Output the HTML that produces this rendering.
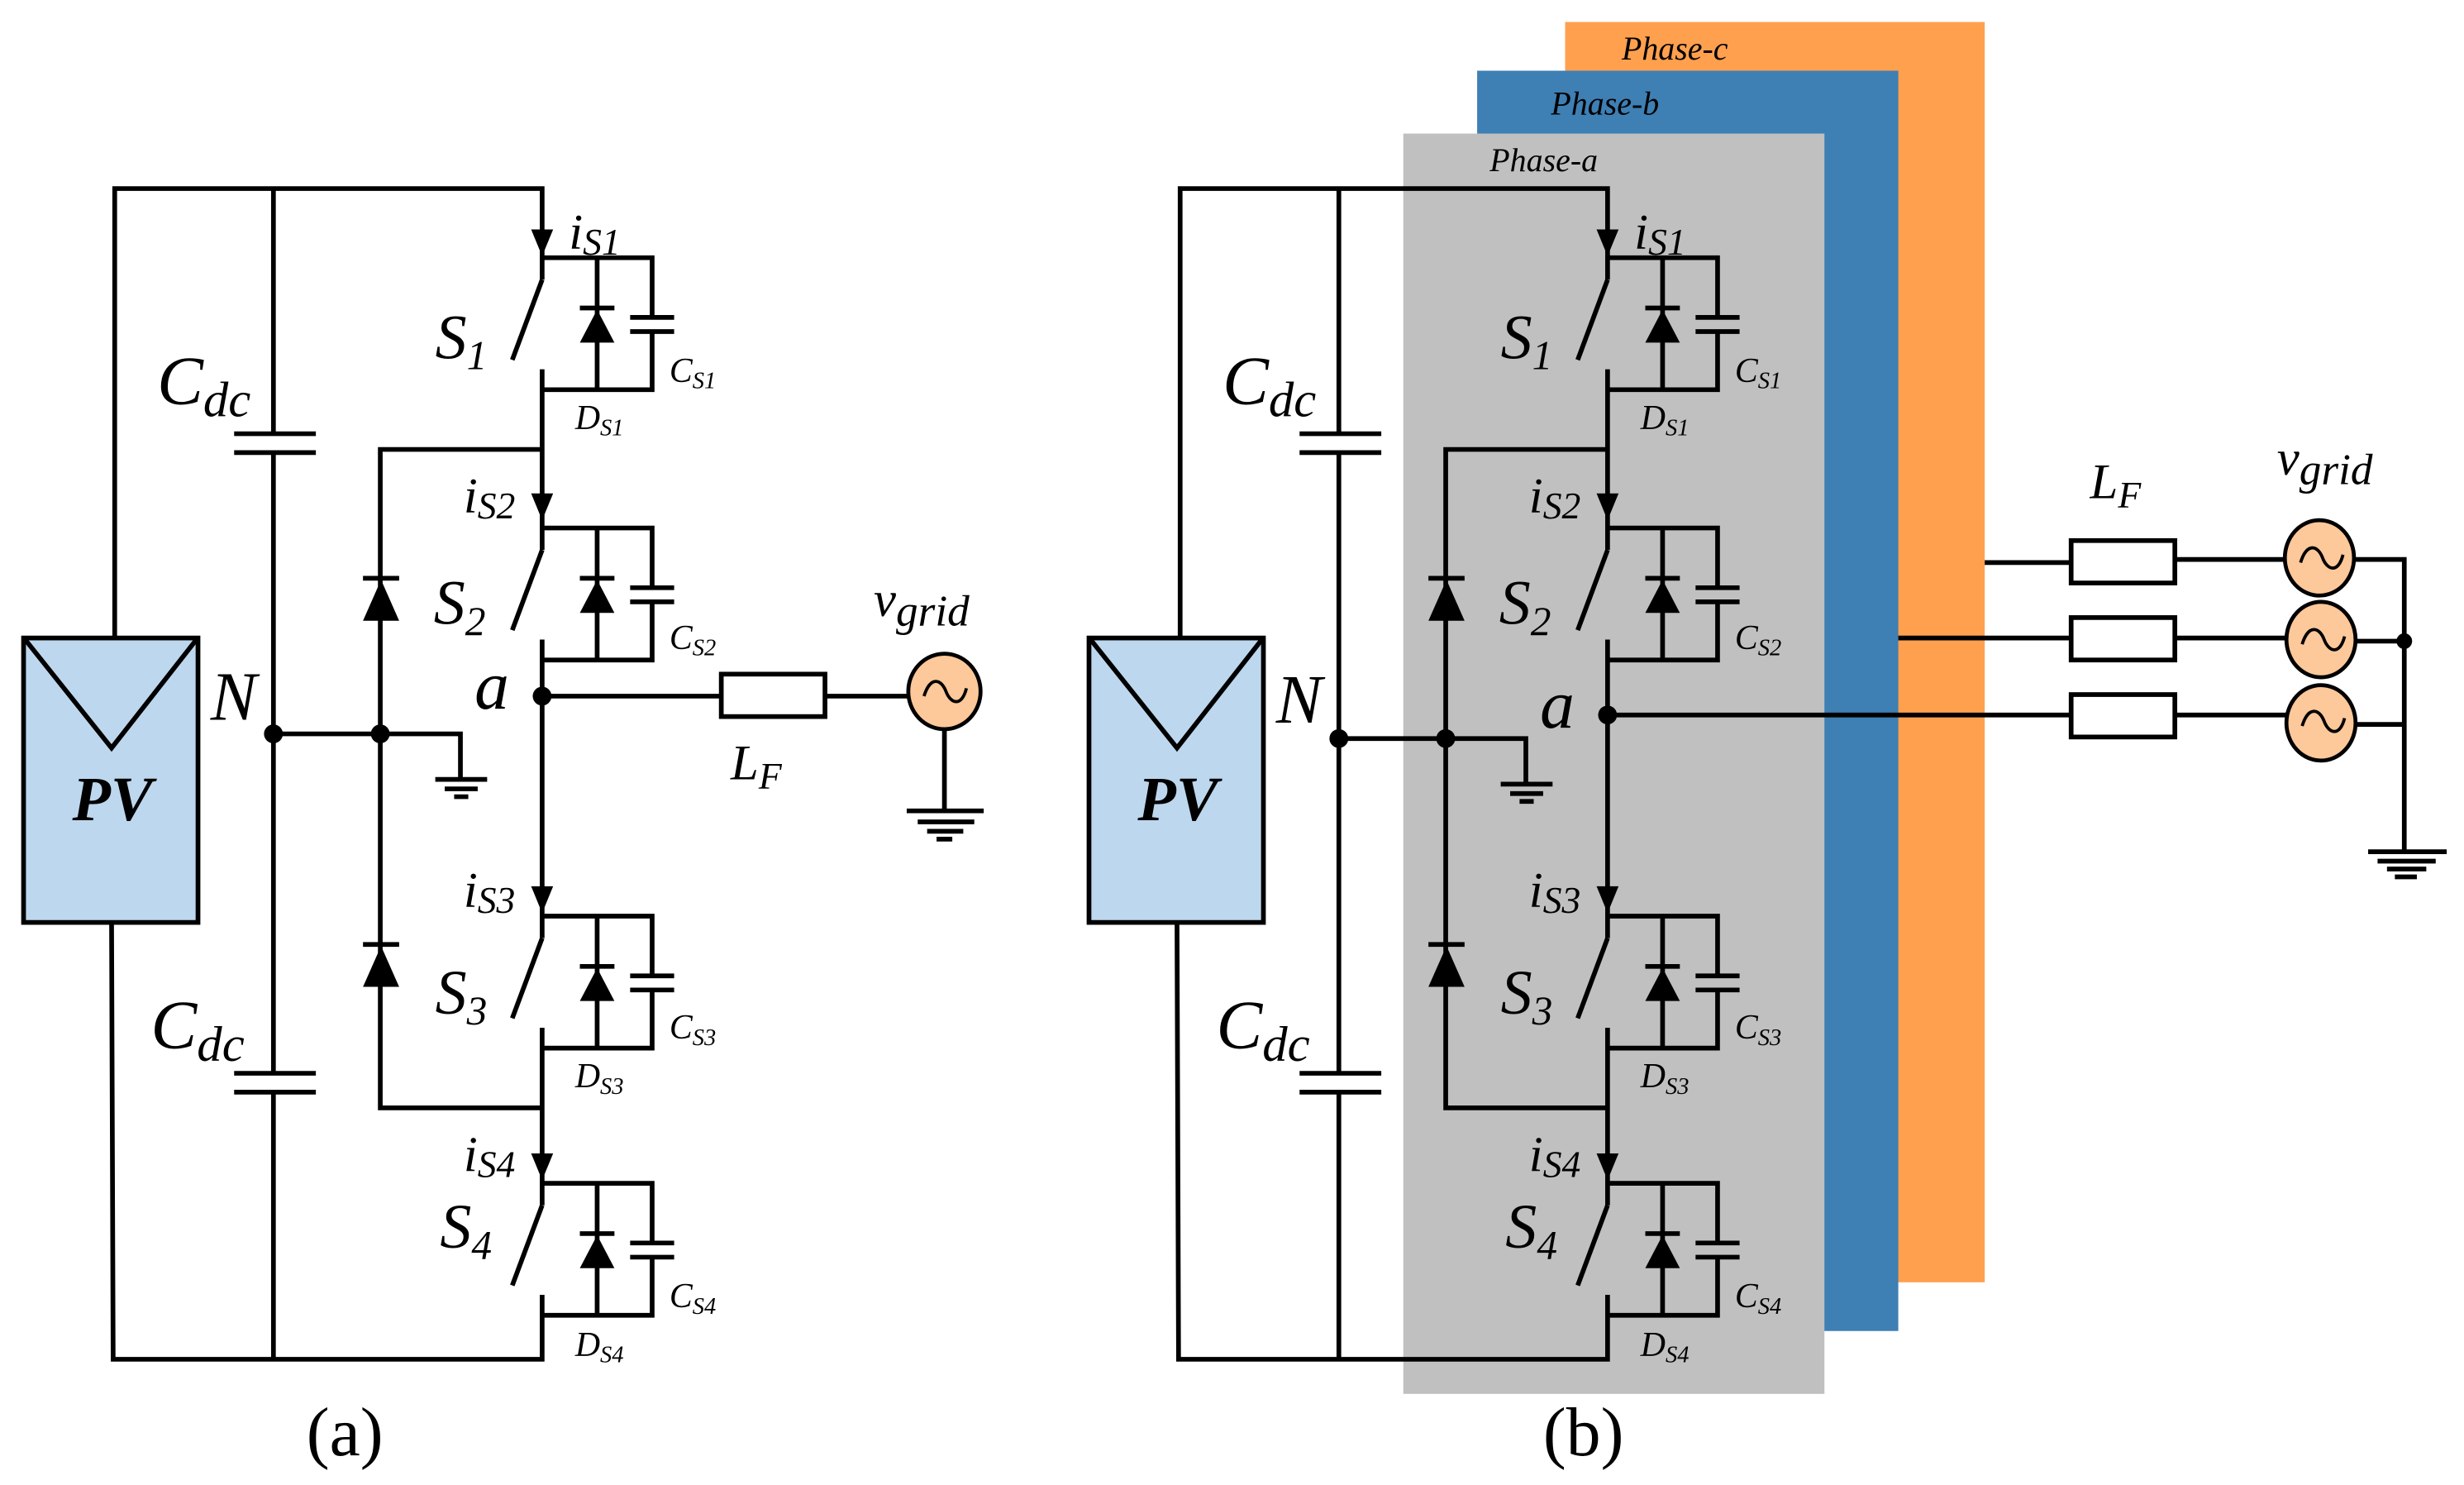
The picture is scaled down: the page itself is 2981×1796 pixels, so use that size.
<!DOCTYPE html>
<html><head><meta charset="utf-8">
<style>
html,body{margin:0;padding:0;background:#fff;}
svg{display:block;}
text{font-family:"Liberation Serif",serif;font-style:italic;fill:#000;}
</style></head>
<body>
<svg width="2981" height="1796" viewBox="0 0 1568 945" preserveAspectRatio="none" xmlns="http://www.w3.org/2000/svg">
<rect x="0" y="0" width="1568" height="945" fill="#fff"/>

<rect x="996" y="14" width="267" height="802" fill="#ffa04f"/>
<rect x="940" y="45" width="268" height="802" fill="#3e7fb4"/>
<rect x="893" y="85" width="268" height="802" fill="#c0c0c0"/>
<text x="1032" y="38" font-size="21">Phase-c</text>
<text x="987" y="73" font-size="21">Phase-b</text>
<text x="948" y="109" font-size="21">Phase-a</text>

<g stroke="#000" stroke-width="3" fill="none">
  <polyline points="73,406 73,120 345,120 345,178"/>
  <polyline points="71,587 72,865 345,865 345,824"/>
  <rect x="15" y="406" width="111" height="181" fill="#bdd7ee"/>
  <polyline points="16,407 71,476 125,407"/>
  <line x1="174" y1="120" x2="174" y2="276"/>
  <line x1="174" y1="288" x2="174" y2="683"/>
  <line x1="174" y1="695" x2="174" y2="865"/>
  <line x1="149" y1="276" x2="201" y2="276"/>
  <line x1="149" y1="288" x2="201" y2="288"/>
  <line x1="149" y1="683" x2="201" y2="683"/>
  <line x1="149" y1="695" x2="201" y2="695"/>
  <polyline points="174,467 293,467 293,496"/>
  <line x1="277" y1="496" x2="310" y2="496"/>
  <line x1="283" y1="502" x2="304" y2="502"/>
  <line x1="289" y1="507" x2="298" y2="507"/>
  <polyline points="345,286 242,286 242,705 345,705"/>
  <line x1="231" y1="368" x2="254" y2="368"/>
  <line x1="231" y1="601" x2="254" y2="601"/>
  <line x1="345" y1="235" x2="345" y2="350"/>
  <line x1="345" y1="407" x2="345" y2="597"/>
  <line x1="345" y1="654" x2="345" y2="767"/>
  <line x1="326" y1="229" x2="345" y2="178"/>
  <line x1="326" y1="401" x2="345" y2="350"/>
  <line x1="326" y1="648" x2="345" y2="597"/>
  <line x1="326" y1="818" x2="345" y2="767"/>
</g>
<g fill="#000" stroke="none">
  <circle cx="174" cy="467" r="6"/>
  <circle cx="242" cy="467" r="6"/>
  <circle cx="345" cy="443" r="6"/>
  <polygon points="231,395 254,395 242.5,369"/>
  <polygon points="231,628 254,628 242.5,602"/>
  <polygon points="338,146 352,146 345,163"/>
  <polygon points="338,314 352,314 345,331"/>
  <polygon points="338,564 352,564 345,581"/>
  <polygon points="338,734 352,734 345,751"/>
</g>

<g stroke="#000" stroke-width="3" fill="none">
  <g transform="translate(0,164)">
    <polyline points="345,0 415,0 415,38"/><polyline points="415,47 415,84 345,84"/>
    <line x1="380" y1="0" x2="380" y2="84"/><line x1="369" y1="32" x2="391" y2="32"/>
    <polygon points="369,54 391,54 380,33" fill="#000" stroke="none"/>
    <line x1="401" y1="38" x2="429" y2="38"/><line x1="401" y1="47" x2="429" y2="47"/>
  </g>
  <g transform="translate(0,336)">
    <polyline points="345,0 415,0 415,38"/><polyline points="415,47 415,84 345,84"/>
    <line x1="380" y1="0" x2="380" y2="84"/><line x1="369" y1="32" x2="391" y2="32"/>
    <polygon points="369,54 391,54 380,33" fill="#000" stroke="none"/>
    <line x1="401" y1="38" x2="429" y2="38"/><line x1="401" y1="47" x2="429" y2="47"/>
  </g>
  <g transform="translate(0,583)">
    <polyline points="345,0 415,0 415,38"/><polyline points="415,47 415,84 345,84"/>
    <line x1="380" y1="0" x2="380" y2="84"/><line x1="369" y1="32" x2="391" y2="32"/>
    <polygon points="369,54 391,54 380,33" fill="#000" stroke="none"/>
    <line x1="401" y1="38" x2="429" y2="38"/><line x1="401" y1="47" x2="429" y2="47"/>
  </g>
  <g transform="translate(0,753)">
    <polyline points="345,0 415,0 415,38"/><polyline points="415,47 415,84 345,84"/>
    <line x1="380" y1="0" x2="380" y2="84"/><line x1="369" y1="32" x2="391" y2="32"/>
    <polygon points="369,54 391,54 380,33" fill="#000" stroke="none"/>
    <line x1="401" y1="38" x2="429" y2="38"/><line x1="401" y1="47" x2="429" y2="47"/>
  </g>
</g>

<g stroke="#000" stroke-width="3" fill="none">
  <line x1="345" y1="443" x2="459" y2="443"/>
  <rect x="459" y="429" width="66" height="27" fill="#fff"/>
  <line x1="525" y1="443" x2="578" y2="443"/>
  <ellipse cx="601" cy="440" rx="23" ry="24" fill="#fdc89a" stroke-width="2.5"/>
  <path d="M588,443 C592,430 599,432 602,440 C605,448 612,450 615,438" stroke-width="2"/>
  <line x1="601" y1="464" x2="601" y2="516"/>
  <line x1="577" y1="516" x2="626" y2="516"/>
  <line x1="584" y1="523" x2="620" y2="523"/>
  <line x1="590" y1="529" x2="613" y2="529"/>
  <line x1="596" y1="534" x2="606" y2="534"/>
</g>

<g transform="translate(678,0)">
<g stroke="#000" stroke-width="3" fill="none">
  <polyline points="73,406 73,120 345,120 345,178"/>
  <polyline points="71,587 72,865 345,865 345,824"/>
  <rect x="15" y="406" width="111" height="181" fill="#bdd7ee"/>
  <polyline points="16,407 71,476 125,407"/>
  <line x1="174" y1="120" x2="174" y2="276"/>
  <line x1="174" y1="288" x2="174" y2="683"/>
  <line x1="174" y1="695" x2="174" y2="865"/>
  <line x1="149" y1="276" x2="201" y2="276"/>
  <line x1="149" y1="288" x2="201" y2="288"/>
  <line x1="149" y1="683" x2="201" y2="683"/>
  <line x1="149" y1="695" x2="201" y2="695"/>
  <polyline points="174,470 293,470 293,499"/>
  <line x1="277" y1="499" x2="310" y2="499"/>
  <line x1="283" y1="505" x2="304" y2="505"/>
  <line x1="289" y1="510" x2="298" y2="510"/>
  <polyline points="345,286 242,286 242,705 345,705"/>
  <line x1="231" y1="368" x2="254" y2="368"/>
  <line x1="231" y1="601" x2="254" y2="601"/>
  <line x1="345" y1="235" x2="345" y2="350"/>
  <line x1="345" y1="407" x2="345" y2="597"/>
  <line x1="345" y1="654" x2="345" y2="767"/>
  <line x1="326" y1="229" x2="345" y2="178"/>
  <line x1="326" y1="401" x2="345" y2="350"/>
  <line x1="326" y1="648" x2="345" y2="597"/>
  <line x1="326" y1="818" x2="345" y2="767"/>
  <g transform="translate(0,164)">
    <polyline points="345,0 415,0 415,38"/><polyline points="415,47 415,84 345,84"/>
    <line x1="380" y1="0" x2="380" y2="84"/><line x1="369" y1="32" x2="391" y2="32"/>
    <polygon points="369,54 391,54 380,33" fill="#000" stroke="none"/>
    <line x1="401" y1="38" x2="429" y2="38"/><line x1="401" y1="47" x2="429" y2="47"/>
  </g>
  <g transform="translate(0,336)">
    <polyline points="345,0 415,0 415,38"/><polyline points="415,47 415,84 345,84"/>
    <line x1="380" y1="0" x2="380" y2="84"/><line x1="369" y1="32" x2="391" y2="32"/>
    <polygon points="369,54 391,54 380,33" fill="#000" stroke="none"/>
    <line x1="401" y1="38" x2="429" y2="38"/><line x1="401" y1="47" x2="429" y2="47"/>
  </g>
  <g transform="translate(0,583)">
    <polyline points="345,0 415,0 415,38"/><polyline points="415,47 415,84 345,84"/>
    <line x1="380" y1="0" x2="380" y2="84"/><line x1="369" y1="32" x2="391" y2="32"/>
    <polygon points="369,54 391,54 380,33" fill="#000" stroke="none"/>
    <line x1="401" y1="38" x2="429" y2="38"/><line x1="401" y1="47" x2="429" y2="47"/>
  </g>
  <g transform="translate(0,753)">
    <polyline points="345,0 415,0 415,38"/><polyline points="415,47 415,84 345,84"/>
    <line x1="380" y1="0" x2="380" y2="84"/><line x1="369" y1="32" x2="391" y2="32"/>
    <polygon points="369,54 391,54 380,33" fill="#000" stroke="none"/>
    <line x1="401" y1="38" x2="429" y2="38"/><line x1="401" y1="47" x2="429" y2="47"/>
  </g>
</g>
<g fill="#000" stroke="none">
  <circle cx="174" cy="470" r="6"/>
  <circle cx="242" cy="470" r="6"/>
  <circle cx="345" cy="455" r="6"/>
  <polygon points="231,395 254,395 242.5,369"/>
  <polygon points="231,628 254,628 242.5,602"/>
  <polygon points="338,146 352,146 345,163"/>
  <polygon points="338,314 352,314 345,331"/>
  <polygon points="338,564 352,564 345,581"/>
  <polygon points="338,734 352,734 345,751"/>
</g>
</g>

<g stroke="#000" stroke-width="3" fill="none">
  <line x1="1023" y1="455" x2="1318" y2="455"/>
  <line x1="1208" y1="406" x2="1318" y2="406"/>
  <line x1="1263" y1="358" x2="1318" y2="358"/>
  <rect x="1318" y="344" width="66" height="27" fill="#fff"/>
  <rect x="1318" y="393" width="66" height="27" fill="#fff"/>
  <rect x="1318" y="442" width="66" height="27" fill="#fff"/>
  <line x1="1384" y1="356" x2="1454" y2="356"/>
  <line x1="1384" y1="406" x2="1455" y2="406"/>
  <line x1="1384" y1="455" x2="1455" y2="455"/>
  <ellipse cx="1476" cy="355" rx="22" ry="24" fill="#fdc89a" stroke-width="2.5"/>
  <ellipse cx="1477" cy="407" rx="22" ry="24" fill="#fdc89a" stroke-width="2.5"/>
  <ellipse cx="1477" cy="460" rx="22" ry="24" fill="#fdc89a" stroke-width="2.5"/>
  <path d="M1464,358 C1468,345 1475,347 1478,355 C1481,363 1488,365 1491,353" stroke-width="2"/>
  <path d="M1465,410 C1469,397 1476,399 1479,407 C1482,415 1489,417 1492,405" stroke-width="2"/>
  <path d="M1465,462 C1469,449 1476,451 1479,459 C1482,467 1489,469 1492,457" stroke-width="2"/>
  <polyline points="1498,356 1530,356 1530,542"/>
  <line x1="1499" y1="408" x2="1530" y2="408"/>
  <line x1="1499" y1="461" x2="1530" y2="461"/>
  <line x1="1507" y1="542" x2="1557" y2="542"/>
  <line x1="1513" y1="548" x2="1550" y2="548"/>
  <line x1="1519" y1="553" x2="1544" y2="553"/>
  <line x1="1524" y1="558" x2="1538" y2="558"/>
</g>
<circle cx="1530" cy="408" r="5" fill="#000"/>

<g id="labels">
<g font-size="44">
  <text x="100" y="257">C<tspan font-size="32" dy="8">dc</tspan></text>
  <text x="96" y="667">C<tspan font-size="32" dy="8">dc</tspan></text>
  <text x="134" y="458">N</text>
  <text x="302" y="451">a</text>
  <text x="46" y="522" font-weight="bold" font-size="40">PV</text>
</g>
<g font-size="40">
  <text x="277" y="228">S<tspan font-size="26" dy="7">1</tspan></text>
  <text x="276" y="397">S<tspan font-size="26" dy="7">2</tspan></text>
  <text x="277" y="645">S<tspan font-size="26" dy="7">3</tspan></text>
  <text x="280" y="794">S<tspan font-size="26" dy="7">4</tspan></text>
</g>
<g font-size="32">
  <text x="362" y="158">i<tspan font-size="24" dy="4">S1</tspan></text>
  <text x="295" y="326">i<tspan font-size="24" dy="4">S2</tspan></text>
  <text x="295" y="577">i<tspan font-size="24" dy="4">S3</tspan></text>
  <text x="295" y="745">i<tspan font-size="24" dy="4">S4</tspan></text>
</g>
<g font-size="22">
  <text x="426" y="243">C<tspan font-size="15" dy="4">S1</tspan></text>
  <text x="426" y="413">C<tspan font-size="15" dy="4">S2</tspan></text>
  <text x="426" y="661">C<tspan font-size="15" dy="4">S3</tspan></text>
  <text x="426" y="832">C<tspan font-size="15" dy="4">S4</tspan></text>
  <text x="366" y="273">D<tspan font-size="15" dy="4">S1</tspan></text>
  <text x="366" y="692">D<tspan font-size="15" dy="4">S3</tspan></text>
  <text x="366" y="863">D<tspan font-size="15" dy="4">S4</tspan></text>
</g>
</g>
<g font-size="32">
  <text x="465" y="496">L<tspan font-size="24" dy="6">F</tspan></text>
  <text x="556" y="392">v<tspan font-size="28" dy="6">grid</tspan></text>
</g>

<g transform="translate(678,0)">
<g font-size="44">
  <text x="100" y="257">C<tspan font-size="32" dy="8">dc</tspan></text>
  <text x="96" y="667">C<tspan font-size="32" dy="8">dc</tspan></text>
  <text x="134" y="460">N</text>
  <text x="302" y="463">a</text>
  <text x="46" y="522" font-weight="bold" font-size="40">PV</text>
</g>
<g font-size="40">
  <text x="277" y="228">S<tspan font-size="26" dy="7">1</tspan></text>
  <text x="276" y="397">S<tspan font-size="26" dy="7">2</tspan></text>
  <text x="277" y="645">S<tspan font-size="26" dy="7">3</tspan></text>
  <text x="280" y="794">S<tspan font-size="26" dy="7">4</tspan></text>
</g>
<g font-size="32">
  <text x="362" y="158">i<tspan font-size="24" dy="4">S1</tspan></text>
  <text x="295" y="326">i<tspan font-size="24" dy="4">S2</tspan></text>
  <text x="295" y="577">i<tspan font-size="24" dy="4">S3</tspan></text>
  <text x="295" y="745">i<tspan font-size="24" dy="4">S4</tspan></text>
</g>
<g font-size="22">
  <text x="426" y="243">C<tspan font-size="15" dy="4">S1</tspan></text>
  <text x="426" y="413">C<tspan font-size="15" dy="4">S2</tspan></text>
  <text x="426" y="661">C<tspan font-size="15" dy="4">S3</tspan></text>
  <text x="426" y="832">C<tspan font-size="15" dy="4">S4</tspan></text>
  <text x="366" y="273">D<tspan font-size="15" dy="4">S1</tspan></text>
  <text x="366" y="692">D<tspan font-size="15" dy="4">S3</tspan></text>
  <text x="366" y="863">D<tspan font-size="15" dy="4">S4</tspan></text>
</g>
</g>
<g font-size="32">
  <text x="1330" y="317">L<tspan font-size="24" dy="6">F</tspan></text>
  <text x="1449" y="302">v<tspan font-size="28" dy="6">grid</tspan></text>
</g>

<text x="195" y="926" font-size="44" style="font-style:normal">(a)</text>
<text x="982" y="926" font-size="44" style="font-style:normal">(b)</text>
</svg>
</body></html>
